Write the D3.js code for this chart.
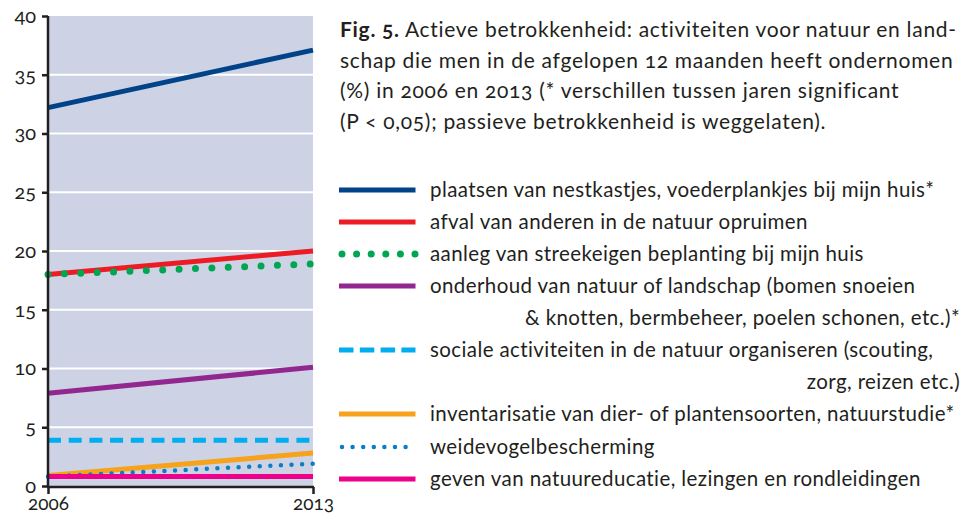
<!DOCTYPE html>
<html>
<head>
<meta charset="utf-8">
<script src="https://cdn.jsdelivr.net/npm/d3@7/dist/d3.min.js"></script>
<style>
  html, body { margin: 0; padding: 0; background: #fff; }
  svg text { font-family: Lato, "Open Sans", sans-serif; fill: #231f20; font-variant-numeric: oldstyle-nums; }
</style>
</head>
<body>
<div id="chart"></div>
<script>
let years = [2006, 2013];
let yTicks = [0, 5, 10, 15, 20, 25, 30, 35, 40];

// percentages 2006 -> 2013
let nestkastjes = [32.2, 37.1];
let afval = [18.0, 20.0];
let streekeigen = [18.0, 18.9];
let onderhoud = [7.9, 10.1];
let sociaal = [3.9, 3.9];
let inventarisatie = [0.9, 2.8];
let weidevogel = [0.8, 1.9];
let educatie = [0.8, 0.8];

let seriesNames = [
    ["plaatsen van nestkastjes, voederplankjes bij mijn huis*"],
    ["afval van anderen in de natuur opruimen"],
    ["aanleg van streekeigen beplanting bij mijn huis"],
    ["onderhoud van natuur of landschap (bomen snoeien", "& knotten, bermbeheer, poelen schonen, etc.)*"],
    ["sociale activiteiten in de natuur organiseren (scouting,", "zorg, reizen etc.)"],
    ["inventarisatie van dier- of plantensoorten, natuurstudie*"],
    ["weidevogelbescherming"],
    ["geven van natuureducatie, lezingen en rondleidingen"]
];
let seriesValues = [nestkastjes, afval, streekeigen, onderhoud, sociaal, inventarisatie, weidevogel, educatie];

let caption = [
    ["Fig. 5.", " Actieve betrokkenheid: activiteiten voor natuur en land-"],
    ["", "schap die men in de afgelopen 12 maanden heeft ondernomen"],
    ["", "(%) in 2006 en 2013 (* verschillen tussen jaren significant"],
    ["", "(P < 0,05); passieve betrokkenheid is weggelaten)."]
];

let styles = [
    { color: '#004388', width: 5, dash: null, legDash: null },
    { color: '#ed1c24', width: 5, dash: null, legDash: null },
    { color: '#00a651', width: 7, dash: '0 16.4', legDash: '0 14.6', round: true },
    { color: '#92278f', width: 5, dash: null, legDash: null },
    { color: '#00aeef', width: 5, dash: '13 7.7', legDash: '14.5 6.3' },
    { color: '#f7a21b', width: 5, dash: null, legDash: null },
    { color: '#0b7dc5', width: 4.5, dash: '0 10.6', legDash: '0 10.6', round: true },
    { color: '#ec008c', width: 5, dash: null, legDash: null }
];

let W = 977, H = 515;
let margin = { top: 16, left: 48 };
let plotW = 265, plotH = 470;

let svg = d3.select('#chart').append('svg')
    .attr('width', W)
    .attr('height', H);

let xScale = d3.scalePoint().domain(years).range([0, plotW]);
let yScale = d3.scaleLinear().domain([0, 40]).range([plotH, 0]);

let g = svg.append('g')
    .attr('transform', 'translate(' + margin.left + ',' + margin.top + ')');

g.append('rect')
    .attr('width', plotW)
    .attr('height', plotH)
    .attr('fill', '#cdd3e5');

// white gridlines
g.selectAll('.grid')
    .data(yTicks.filter(function(d) { return d > 0 && d < 40; }))
    .enter()
    .append('line')
    .attr('x1', 0)
    .attr('x2', plotW)
    .attr('y1', function(d) { return yScale(d); })
    .attr('y2', function(d) { return yScale(d); })
    .attr('stroke', '#fff')
    .attr('stroke-width', 2);

let line = d3.line()
    .x(function(d, i) { return xScale(years[i]); })
    .y(function(d) { return yScale(d); });

seriesValues.forEach(function(vals, i) {
    let s = styles[i];
    g.append('path')
        .attr('d', line(vals))
        .attr('fill', 'none')
        .attr('stroke', s.color)
        .attr('stroke-width', s.width)
        .attr('stroke-dasharray', s.dash)
        .attr('stroke-linecap', s.round ? 'round' : 'butt');
});

// axes
let yAxis = d3.axisLeft(yScale).tickValues(yTicks).tickSize(6).tickPadding(6);
let yAxisG = g.append('g').call(yAxis);
let xAxis = d3.axisBottom(xScale).tickSize(7).tickFormat(d3.format('d'));
let xAxisG = g.append('g')
    .attr('transform', 'translate(0,' + (plotH + 1) + ')')
    .call(xAxis);

[yAxisG, xAxisG].forEach(function(ax) {
    ax.select('.domain').remove();
    ax.selectAll('line').attr('stroke', '#231f20').attr('stroke-width', 2.5);
    ax.selectAll('text')
        .style('font-size', '20px')
        .attr('fill', '#231f20');
});
xAxisG.selectAll('text')
    .style('font-size', '19px')
    .attr('dy', null)
    .attr('y', 23);
g.append('line')
    .attr('x1', 0).attr('x2', 0)
    .attr('y1', 0).attr('y2', plotH + 2)
    .attr('stroke', '#231f20').attr('stroke-width', 2.5);
g.append('line')
    .attr('x1', -1).attr('x2', plotW + 1)
    .attr('y1', plotH + 1).attr('y2', plotH + 1)
    .attr('stroke', '#231f20').attr('stroke-width', 2.5);

// caption
let cap = svg.append('g').attr('transform', 'translate(340,0)');
caption.forEach(function(c, i) {
    let t = cap.append('text')
        .attr('y', 37 + i * 30.5)
        .style('font-size', '21px')
        .style('letter-spacing', '0.7px');
    if (c[0]) {
        t.append('tspan').style('font-weight', 'bold').text(c[0]);
    }
    t.append('tspan').text(c[1]);
});

// legend
let rowY = [190, 222, 254, 286, 350, 414, 447, 479];
let leg = svg.append('g');
seriesNames.forEach(function(names, i) {
    let s = styles[i];
    let y = rowY[i];
    leg.append('line')
        .attr('x1', s.round ? 342 : 339)
        .attr('x2', 415.5)
        .attr('y1', y).attr('y2', y)
        .attr('stroke', s.color)
        .attr('stroke-width', s.width)
        .attr('stroke-dasharray', s.legDash)
        .attr('stroke-linecap', s.round ? 'round' : 'butt');
    leg.append('text')
        .attr('x', 430)
        .attr('y', y + 7)
        .style('font-size', '20.5px')
        .style('letter-spacing', '0.4px')
        .text(names[0]);
    if (names[1]) {
        leg.append('text')
            .attr('x', 960)
            .attr('y', y + 7 + 32)
            .attr('text-anchor', 'end')
            .style('font-size', '20.5px')
            .style('letter-spacing', '0.4px')
            .text(names[1]);
    }
});
</script>
</body>
</html>
